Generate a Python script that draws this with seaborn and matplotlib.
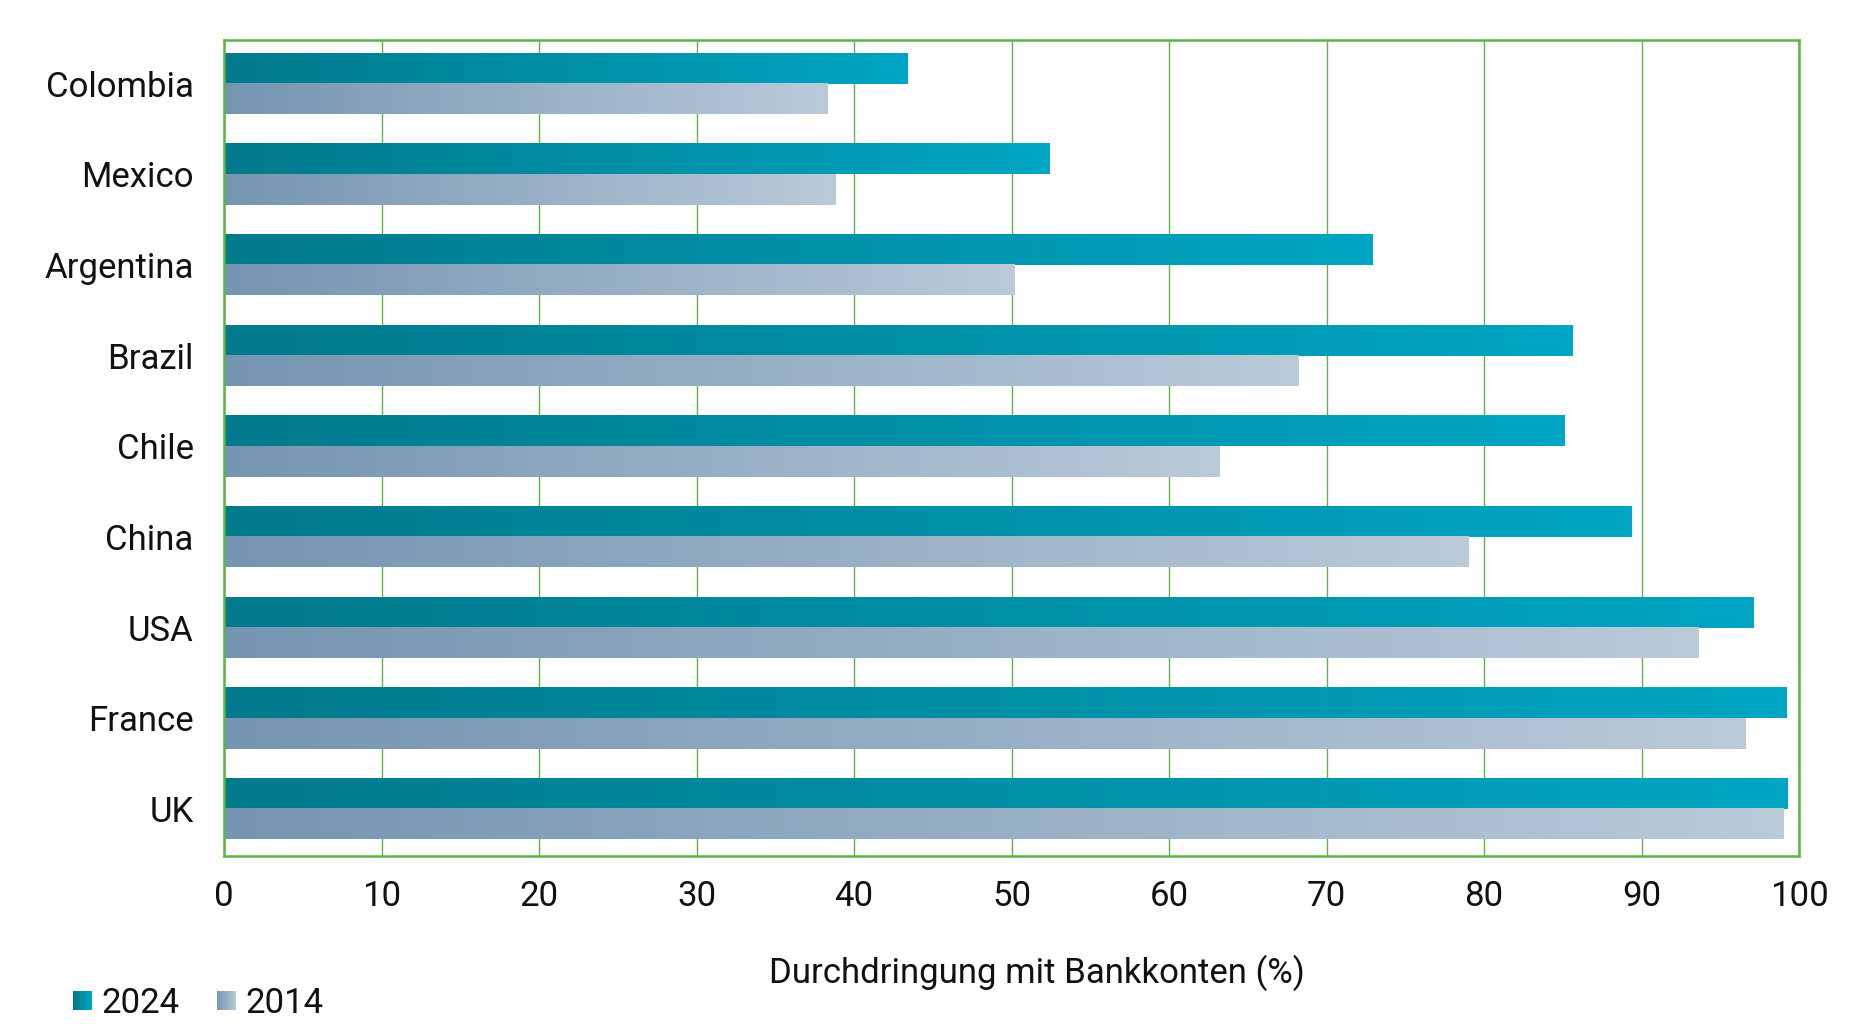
import numpy as np
import pandas as pd
import matplotlib
matplotlib.use('Agg')
import matplotlib.pyplot as plt
import seaborn as sns
from matplotlib.colors import LinearSegmentedColormap
from matplotlib.legend_handler import HandlerBase
from matplotlib.patches import Rectangle

# data
countries = ['Colombia', 'Mexico', 'Argentina', 'Brazil', 'Chile', 'China', 'USA', 'France', 'UK']
share_2024 = [43.4, 52.4, 72.9, 85.6, 85.1, 89.4, 97.1, 99.2, 99.3]
share_2014 = [38.3, 38.8, 50.2, 68.2, 63.2, 79.0, 93.6, 96.6, 99.0]
years = ['2024', '2014']
x_ticks = list(range(0, 101, 10))

df = pd.DataFrame({
    'country': countries * 2,
    'value': share_2024 + share_2014,
    'year': [years[0]] * len(countries) + [years[1]] * len(countries),
})

cmaps = {
    '2024': LinearSegmentedColormap.from_list('c24', ['#007a8c', '#00a6c2']),
    '2014': LinearSegmentedColormap.from_list('c14', ['#7595b2', '#bacad9']),
}
green = '#5bb543'
fs = 25
txt = '#111111'

sns.set_style('white')
plt.rcParams['font.family'] = ['Roboto', 'DejaVu Sans']

fig, ax = plt.subplots(figsize=(18.76, 10.28), dpi=100)
fig.subplots_adjust(left=0.1195, right=0.959, top=0.961, bottom=0.167)

sns.barplot(data=df, y='country', x='value', hue='year', hue_order=years,
            order=countries, orient='h', width=0.667, ax=ax, legend=False,
            palette=['#0090a6', '#98b0c6'], linewidth=0, zorder=2)

# replace flat fill with a left-to-right gradient per bar
grad = np.linspace(0, 1, 256).reshape(1, -1)
for year, cont in zip(years, ax.containers):
    for bar in cont:
        x0, y0 = bar.get_x(), bar.get_y()
        w, h = bar.get_width(), bar.get_height()
        ax.imshow(grad, extent=[x0, x0 + w, y0 + h, y0], cmap=cmaps[year],
                  aspect='auto', zorder=2, interpolation='bicubic')
        bar.set_visible(False)

ax.set_xlim(0, 100)
ax.set_ylim(8.52, -0.48)
ax.set_xticks(x_ticks)
ax.grid(axis='x', color=green, linewidth=1.0, zorder=0)
ax.grid(axis='y', visible=False)
ax.set_axisbelow(True)
for s in ax.spines.values():
    s.set_visible(True)
    s.set_color(green)
    s.set_linewidth(1.8)

ax.tick_params(axis='both', length=0, labelsize=fs, colors=txt)
ax.tick_params(axis='x', pad=17)
ax.tick_params(axis='y', pad=22)
ax.set_ylabel('')
ax.set_xlabel('Durchdringung mit Bankkonten (%)', fontsize=fs, color=txt)
ax.xaxis.set_label_coords(0.516, -0.12)


class GradHandler(HandlerBase):
    def __init__(self, cmap):
        super().__init__()
        self.cmap = cmap

    def create_artists(self, legend, orig_handle, xdescent, ydescent,
                       width, height, fontsize, trans):
        n = 16
        side = min(width, height)
        y0 = -ydescent + (height - side) / 2
        arts = []
        for i in range(n):
            arts.append(Rectangle((-xdescent + i * side / n, y0), side / n, side,
                                  facecolor=self.cmap((i + 0.5) / n), lw=0,
                                  transform=trans))
        return arts


handles = [Rectangle((0, 0), 1, 1) for _ in years]
leg = fig.legend(handles, years, loc='center left', bbox_to_anchor=(0.039, 0.024),
                 ncol=2, frameon=False, fontsize=fs, handlelength=0.55, handleheight=0.55,
                 handletextpad=0.25, columnspacing=1.1, borderpad=0, borderaxespad=0,
                 handler_map={h: GradHandler(cmaps[y]) for h, y in zip(handles, years)})
for t in leg.get_texts():
    t.set_color(txt)

plt.savefig('out.png', dpi=100)
